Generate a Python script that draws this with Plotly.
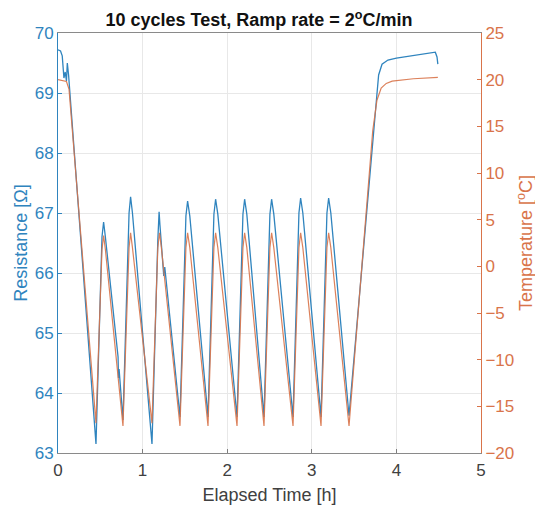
import plotly.graph_objects as go

# Resistance series (hours, ohm)
res_time = [0.000, 0.030, 0.050, 0.070, 0.085, 0.100, 0.110, 0.125,
            0.449,
            0.520, 0.539, 0.560,
            0.710, 0.715, 0.722,
            0.768,
            0.840, 0.858, 0.880,
            1.111,
            1.180, 1.195, 1.205, 1.225, 1.240, 1.250, 1.262,
            1.442,
            1.512, 1.532, 1.558,
            1.773,
            1.843, 1.863, 1.889,
            2.116,
            2.186, 2.206, 2.232,
            2.435,
            2.505, 2.525, 2.551,
            2.778,
            2.848, 2.868, 2.894,
            3.109,
            3.179, 3.199, 3.225,
            3.440,
            3.765, 3.790, 3.830, 3.900, 4.000, 4.200, 4.400,
            4.460, 4.480, 4.490]
res_value = [69.72, 69.70, 69.62, 69.25, 69.35, 69.20, 69.50, 69.30,
             63.15,
             66.60, 66.85, 66.60,
             64.60, 64.25, 64.40,
             63.55,
             67.00, 67.27, 67.00,
             63.15,
             66.55, 67.02, 66.80, 66.35, 66.20, 65.95, 66.10,
             63.60,
             66.95, 67.20, 66.95,
             63.60,
             66.98, 67.23, 66.98,
             63.60,
             66.98, 67.23, 66.98,
             63.60,
             66.98, 67.23, 66.98,
             63.60,
             67.00, 67.25, 67.00,
             63.60,
             67.00, 67.25, 67.00,
             63.62,
             68.90, 69.30, 69.48, 69.55, 69.58, 69.62, 69.66,
             69.68, 69.60, 69.48]

# Temperature series (hours, degC)
temp_time = [0.000, 0.100, 0.130,
             0.449,
             0.520, 0.539, 0.560,
             0.768,
             0.840, 0.858, 0.880,
             1.111,
             1.180, 1.200, 1.222,
             1.442,
             1.512, 1.532, 1.558,
             1.773,
             1.843, 1.863, 1.889,
             2.116,
             2.186, 2.206, 2.232,
             2.435,
             2.505, 2.525, 2.551,
             2.778,
             2.848, 2.868, 2.894,
             3.109,
             3.179, 3.199, 3.225,
             3.440,
             3.720, 3.770, 3.820, 3.880, 3.950, 4.200, 4.490]
temp_value = [20.0, 19.8, 19.0,
              -16.8,
              1.8, 3.3, 1.8,
              -17.1,
              2.0, 3.6, 2.0,
              -16.8,
              2.0, 3.6, 2.0,
              -17.1,
              2.0, 3.6, 2.0,
              -17.1,
              2.0, 3.6, 2.0,
              -17.1,
              2.0, 3.6, 2.0,
              -17.1,
              2.0, 3.6, 2.0,
              -17.1,
              2.0, 3.6, 2.0,
              -17.1,
              2.0, 3.6, 2.0,
              -17.1,
              14.5, 17.8, 19.1, 19.6, 19.85, 20.1, 20.25]

x_ticks = [0, 1, 2, 3, 4, 5]
res_ticks = [63, 64, 65, 66, 67, 68, 69, 70]
temp_ticks = [-20, -15, -10, -5, 0, 5, 10, 15, 20, 25]

BLUE = "#2F84BE"
ORANGE = "#D9744A"
FONT = "Liberation Sans, Arial, sans-serif"
FS_TICK = 17
FS_LAB = 18

# the page body adds an 8px offset, so the figure is 8px smaller
W, H = 535, 498

fig = go.Figure()
fig.add_trace(go.Scatter(x=res_time, y=res_value, mode="lines",
                         line=dict(color=BLUE, width=1.3), yaxis="y",
                         showlegend=False))
fig.add_trace(go.Scatter(x=temp_time, y=temp_value, mode="lines",
                         line=dict(color=ORANGE, width=1.2), yaxis="y2",
                         showlegend=False, opacity=0.9))

fig.update_layout(
    width=W, height=H,
    margin=dict(l=50, r=62, t=25, b=53, autoexpand=False),
    paper_bgcolor="white", plot_bgcolor="white",
    font=dict(family=FONT, size=FS_TICK, color="#404040"),
    title=dict(text="<b>10 cycles Test, Ramp rate = 2<sup>o</sup>C/min</b>",
               x=251 / W, xref="container", xanchor="center",
               y=1 - 12 / H, yref="container", yanchor="middle",
               font=dict(family=FONT, size=FS_LAB, color="#111111")),
    xaxis=dict(range=[0, 5], tickvals=x_ticks, ticks="inside", ticklen=4,
               tickcolor="#7f7f7f", showline=True, linecolor="#8a8a8a",
               linewidth=1, mirror=True, showgrid=True, gridcolor="#e8e8e8",
               zeroline=False, automargin=False, ticklabelstandoff=2,
               title=dict(text="Elapsed Time [h]", standoff=8,
                          font=dict(size=FS_LAB, color="#404040")),
               tickfont=dict(size=FS_TICK, color="#404040")),
    yaxis=dict(range=[63, 70], tickvals=res_ticks, ticks="inside", ticklen=4,
               tickcolor=BLUE, showline=True, linecolor=BLUE, linewidth=1,
               showgrid=True, gridcolor="#e8e8e8", zeroline=False,
               automargin=False,
               tickfont=dict(size=FS_TICK, color=BLUE),
               title=dict(text="Resistance [Ω]", standoff=2,
                          font=dict(size=FS_LAB, color=BLUE))),
    yaxis2=dict(range=[-20, 25], tickvals=temp_ticks, overlaying="y",
                side="right", ticks="inside", ticklen=4, tickcolor=ORANGE,
                showline=True, linecolor=ORANGE, linewidth=1,
                showgrid=False, zeroline=False, automargin=False,
                tickfont=dict(size=FS_TICK, color=ORANGE),
                title=dict(text="Temperature [<sup>o</sup>C]", standoff=6,
                           font=dict(size=FS_LAB, color=ORANGE))),
)

fig.write_html("out.html")
